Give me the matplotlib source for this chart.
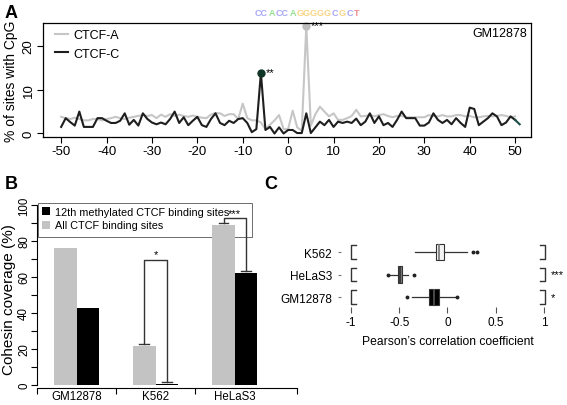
import numpy as np
import matplotlib
matplotlib.use("Agg")
import matplotlib.pyplot as plt
from matplotlib.patches import Patch, Rectangle
from itertools import groupby

plt.rcParams['font.family'] = ['Liberation Sans', 'DejaVu Sans']
plt.rcParams['axes.unicode_minus'] = False

# ---------------- Panel A data ----------------
ctcf_c = [1.5, 3.5, 2.6, 1.8, 5.0, 1.5, 1.5, 1.5, 3.5, 3.5,    # -50..-41
          2.9, 2.4, 2.4, 2.9, 4.6, 2.0, 3.1, 1.8, 4.6, 3.3,    # -40..-31
          2.5, 2.1, 2.5, 2.1, 3.3, 5.0, 2.4, 3.7, 1.9, 2.9,    # -30..-21
          3.8, 1.9, 1.5, 3.3, 4.6, 2.4, 1.9, 2.9, 2.4, 3.3,    # -20..-11
          3.5, 2.4, 0.3, 1.0, 13.8, 0.8, 1.5, 0.0, 1.4, 0.0,   # -10..-1
          0.8, 0.8, 0.1, 0.1, 4.6, 0.1, 1.4, 2.7, 1.9, 3.1,    # 0..9
          1.5, 2.7, 2.4, 2.7, 2.4, 3.4, 1.9, 2.7, 4.6, 2.4,    # 10..19
          3.9, 1.9, 2.4, 1.5, 3.1, 5.0, 3.5, 3.5, 3.5, 1.8,    # 20..29
          1.8, 2.5, 4.6, 3.1, 2.4, 3.1, 2.1, 3.5, 2.4, 1.5,    # 30..39
          5.9, 5.6, 1.9, 2.7, 3.5, 4.6, 3.9, 1.9, 2.5, 3.9,    # 40..49
          3.1, 2.1]                                            # 50..51
ctcf_a = [3.8, 3.5, 3.3, 3.6, 3.3, 3.0, 3.0, 3.3, 3.3, 3.0,    # -50..-41
          3.3, 3.5, 3.8, 3.5, 3.3, 3.6, 3.8, 4.0, 4.2, 4.0,    # -40..-31
          4.2, 3.5, 4.3, 3.8, 4.4, 4.0, 4.3, 4.0, 3.8, 4.1,    # -30..-21
          3.8, 3.6, 3.5, 4.3, 4.7, 4.6, 4.0, 4.4, 4.4, 3.3,    # -20..-11
          6.8, 3.5, 3.0, 3.0, 2.5, 1.0, 2.0, 3.0, 4.2, 1.0,    # -10..-1
          1.0, 5.2, 1.4, 0.6, 24.5, 1.8, 4.4, 6.1, 5.0, 3.9,   # 0..9
          4.6, 3.1, 3.1, 3.5, 4.0, 5.4, 3.9, 4.0, 4.2, 3.9,    # 10..19
          4.2, 4.4, 4.0, 3.7, 4.0, 4.0, 3.7, 3.7, 3.7, 3.7,    # 20..29
          3.7, 4.2, 4.0, 3.9, 4.2, 3.9, 3.9, 4.2, 4.2, 3.9,    # 30..39
          4.0, 3.7, 3.7, 3.9, 4.0, 3.9, 4.0, 4.2, 4.0, 3.7,    # 40..49
          3.9]                                                 # 50
pos_start = -50
peak_c = (-6, 13.8)
peak_a = (4, 24.5)
motif_letters = list("CCACCAGGGGGCGCT")
letter_colors = {'A': '#4fd04f', 'C': '#6a6af0', 'G': '#f5b82e', 'T': '#e84040'}

# ---------------- Panel B data ----------------
cells_b = ['GM12878', 'K562', 'HeLaS3']
all_sites = [76, 21.5, 89]
meth_sites = [42.5, 0.5, 62]

# ---------------- Panel C data ----------------
cells_c = ['GM12878', 'HeLaS3', 'K562']
c_whislo = [-0.37, -0.60, -0.334]
c_q1 = [-0.19, -0.517, -0.121]
c_med = [-0.14, -0.49, -0.085]
c_q3 = [-0.093, -0.472, -0.041]
c_whishi = [0.075, -0.405, 0.20]
c_fliers = [[-0.42, 0.103], [-0.62, -0.352], [0.262, 0.303]]
c_sig = ['*', '***', '']
c_faces = ['black', '#7a7a7a', '#f4f4f4']
c_medcol = ['#555555', '#333333', '#777777']

W, H = 567, 406
fig = plt.figure(figsize=(W / 100, H / 100), dpi=100)

def px_axes(l, t, r, b):
    return fig.add_axes([l / W, 1 - b / H, (r - l) / W, (b - t) / H])

# ================= Panel A =================
axA = px_axes(43, 24, 531, 138)
xa = np.arange(pos_start, pos_start + len(ctcf_a))
xc = np.arange(pos_start, pos_start + len(ctcf_c))
axA.plot(xa, ctcf_a, color='#c6c6c6', lw=1.5, label='CTCF-A')
axA.plot(xc[:-1], ctcf_c[:-1], color='#1e1e1e', lw=1.5, label='CTCF-C')
axA.plot(xc[-2:], ctcf_c[-2:], color='#1d4f4a', lw=1.5)
axA.plot([peak_a[0]], [peak_a[1]], 'o', color='#bdbdbd', ms=5, clip_on=False)
axA.plot([peak_c[0]], [peak_c[1]], 'o', color='#0f3526', ms=5)
axA.text(peak_a[0] + 1.0, peak_a[1] + 0.2, '***', fontsize=8, va='center', ha='left')
axA.text(peak_c[0] + 1.0, peak_c[1] + 0.2, '**', fontsize=8, va='center', ha='left')
axA.set_xlim(-54, 53.5)
axA.set_ylim(-0.8, 25.2)
axA.set_xticks(np.arange(-50, 51, 10))
axA.set_yticks([0, 10, 20])
axA.tick_params(axis='x', labelsize=9.5, length=4, width=0.8, pad=2)
axA.tick_params(axis='y', labelsize=9.5, length=4, width=0.8, pad=2, labelrotation=90)
for lab in axA.get_yticklabels():
    lab.set_va('center')
for s in axA.spines.values():
    s.set_linewidth(0.9)
axA.set_ylabel('% of sites with CpG', fontsize=10, labelpad=3)
axA.legend(loc='upper left', bbox_to_anchor=(0.0246, 0.945), frameon=False,
           fontsize=9, handlelength=1.05, handletextpad=0.45, labelspacing=0.5,
           borderaxespad=0, borderpad=0)
axA.text(0.992, 0.912, 'GM12878', transform=axA.transAxes, ha='right', va='center', fontsize=9)

# motif logo: letters grouped by colour, placed one after another
renderer = fig.canvas.get_renderer()
cur_x = 255.0
for ch, grp in groupby(motif_letters):
    s = ''.join(grp)
    t = fig.text(cur_x / W, 1 - 14 / H, s, color=letter_colors[ch], alpha=0.6,
                 fontsize=6.5, fontweight='bold', ha='left', va='center')
    bb = t.get_window_extent(renderer=renderer)
    cur_x += bb.width + 0.6

# ================= Panel B =================
axB = px_axes(37, 206, 297, 389)
centers = np.arange(len(cells_b)) * 3.5
axB.bar(centers - 0.5, all_sites, width=1, color='#c3c3c3', zorder=2)
axB.bar(centers + 0.5, meth_sites, width=1, color='black', zorder=2)
axB.set_xlim(-1.75, 9.75)
axB.set_ylim(-1.67, 100)
axB.spines['top'].set_visible(False)
axB.spines['right'].set_visible(False)
axB.spines['left'].set_bounds(0, 100)
axB.set_xticks([-1.75, 1.75, 5.25, 9.75])
axB.set_xticklabels([])
axB.set_xticks(centers, minor=True)
axB.set_xticklabels(cells_b, minor=True)
axB.tick_params(axis='x', which='major', length=4, width=0.8)
axB.tick_params(axis='x', which='minor', length=0, labelsize=8.3, pad=1.5)
axB.set_yticks(np.arange(0, 101, 20))
axB.set_yticks(np.arange(10, 100, 20), minor=True)
axB.tick_params(axis='y', which='both', length=4, width=0.8, labelsize=8.3, pad=1, labelrotation=90)
for lab in axB.get_yticklabels():
    lab.set_va('center')
axB.set_ylabel('Cohesin coverage (%)', fontsize=11)
axB.yaxis.set_label_coords((9 - 37) / 260, 0.49)
axB.yaxis.label.set_va('center')

def bracket(ax, xl, yl, xr, yr, ytop, star):
    ax.plot([xl, xl, xr, xr], [yl, ytop, ytop, yr], color='#333333', lw=1.0, zorder=3)
    ax.plot([xl - 0.22, xl + 0.22], [yl, yl], color='#333333', lw=1.0, zorder=3)
    ax.plot([xr - 0.22, xr + 0.22], [yr, yr], color='#333333', lw=1.0, zorder=3)
    ax.text((xl + xr) / 2, ytop + 0.5, star, ha='center', va='bottom', fontsize=8, zorder=3)

bracket(axB, centers[1] - 0.5, all_sites[1] + 1, centers[1] + 0.5, meth_sites[1] + 1.2, 69.5, '*')
bracket(axB, centers[2] - 0.5, all_sites[2] + 1, centers[2] + 0.5, meth_sites[2] + 1.5, 92.5, '***')

hB = [Patch(facecolor='black'), Patch(facecolor='#c3c3c3')]
legB = axB.legend(hB, ['12th methylated CTCF binding sites', 'All CTCF binding sites'],
                  loc='upper left', bbox_to_anchor=(0.019, 0.991), fontsize=7.8,
                  handlelength=0.75, handleheight=0.75, handletextpad=0.5,
                  labelspacing=0.35, borderpad=0, borderaxespad=0, frameon=False)
legB.set_zorder(4)
frameB = Rectangle((38 / W, 1 - 238 / H), 214 / W, 34 / H, transform=fig.transFigure,
                   fill=False, edgecolor='#555555', linewidth=0.6, zorder=1, clip_on=False)
axB.add_artist(frameB)

# ================= Panel C =================
axC = px_axes(341, 240, 555, 308)
stats = []
for i, lab in enumerate(cells_c):
    stats.append(dict(label=lab, whislo=c_whislo[i], q1=c_q1[i], med=c_med[i],
                      q3=c_q3[i], whishi=c_whishi[i], fliers=c_fliers[i]))
ypos = np.arange(1, len(cells_c) + 1)
bp = axC.bxp(stats, positions=ypos, widths=0.75, orientation='horizontal', patch_artist=True,
             showcaps=False,
             boxprops=dict(edgecolor='#333333', linewidth=0.8),
             whiskerprops=dict(color='#333333', linewidth=0.9),
             flierprops=dict(marker='o', markersize=1.8, markerfacecolor='#222222',
                             markeredgecolor='#222222'))
for patch, fc in zip(bp['boxes'], c_faces):
    patch.set_facecolor(fc)
for m, mc in zip(bp['medians'], c_medcol):
    m.set_color(mc)
    m.set_linewidth(1.2)
for yy, sig in zip(ypos, c_sig):
    axC.plot([-0.945, -1, -1, -0.945], [yy - 0.3, yy - 0.3, yy + 0.3, yy + 0.3], color='#333333', lw=1.0, clip_on=False)
    axC.plot([0.955, 1.01, 1.01, 0.955], [yy - 0.3, yy - 0.3, yy + 0.3, yy + 0.3], color='#333333', lw=1.0, clip_on=False)
    if sig:
        axC.text(1.075, yy, sig, ha='left', va='center', fontsize=8, clip_on=False)
axC.set_xlim(-1.1036, 1.114)
axC.set_ylim(0.556, 3.578)
for s in axC.spines.values():
    s.set_visible(False)
axC.set_xticks([-1, -0.5, 0, 0.5, 1])
axC.set_xticklabels(['-1', '-0.5', '0', '0.5', '1'])
axC.set_yticks(ypos)
axC.set_yticklabels(cells_c)
axC.tick_params(axis='x', length=4, width=0.8, labelsize=8.5, pad=2.5, color='#555555')
axC.tick_params(axis='y', length=2.5, width=0.8, labelsize=8.5, pad=4, color='#777777')
axC.set_xlabel('Pearson\u2019s correlation coefficient', fontsize=8.7, labelpad=5)

# panel letters
fig.text(5 / W, 1 - 13 / H, 'A', fontsize=13, fontweight='bold', ha='left', va='center')
fig.text(5 / W, 1 - 185 / H, 'B', fontsize=13, fontweight='bold', ha='left', va='center')
fig.text(264 / W, 1 - 185 / H, 'C', fontsize=13, fontweight='bold', ha='left', va='center')

fig.savefig('out.png', dpi=100)
